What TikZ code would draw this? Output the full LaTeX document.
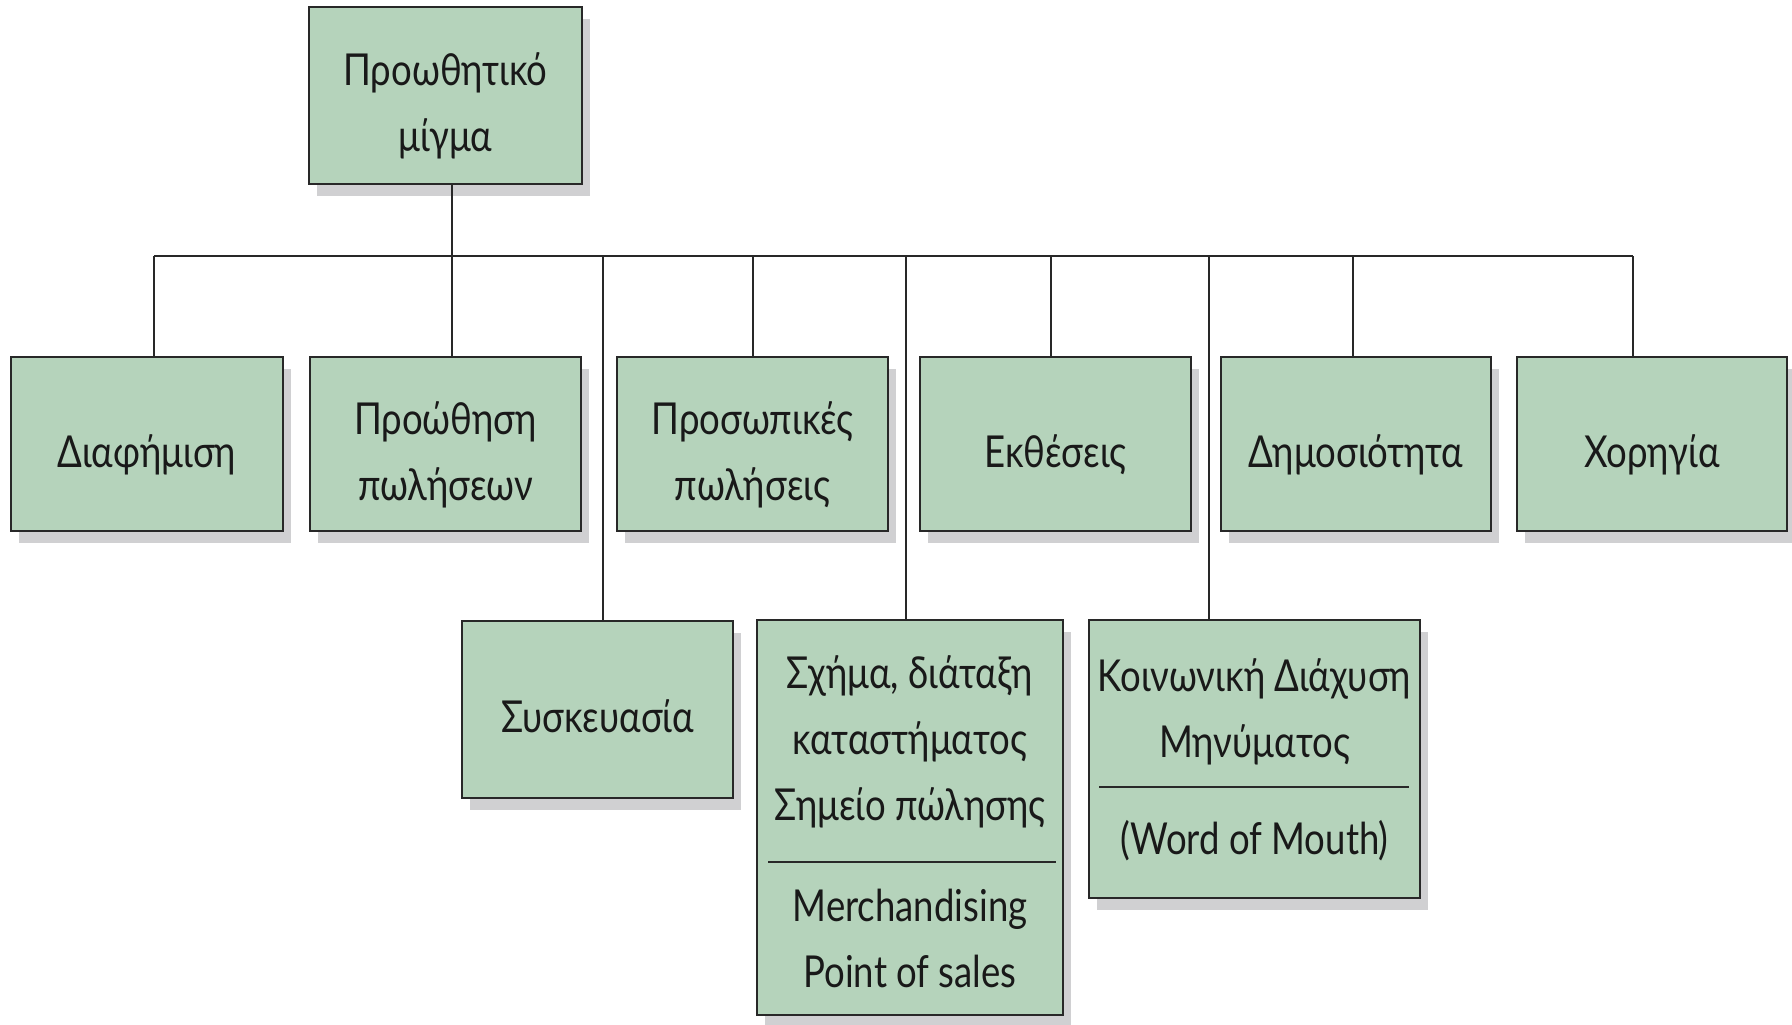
\documentclass[tikz,border=0pt]{standalone}
\usepackage{fontspec}
\setmainfont{Lato}[FakeStretch=0.83]
\usetikzlibrary{shadows}

\definecolor{boxgreen}{RGB}{181,211,187}
\definecolor{shadowgray}{RGB}{208,208,210}
\definecolor{linegray}{RGB}{40,40,40}
\newcommand{\topstrut}{\rule{0pt}{58pt}}
\newcommand{\botstrut}{\rule[-12pt]{0pt}{0pt}}

\begin{document}
\begin{tikzpicture}[
			x=1pt, y=-1pt,
			greenbox/.style={rectangle, draw=linegray, fill=boxgreen, line width=2.5pt, inner sep=0pt,
				align=center, text=black!90, font=\fontsize{44}{66}\selectfont,
				drop shadow={shadow xshift=8pt, shadow yshift=-12pt, fill=shadowgray, opacity=1}},
			plaintext/.style={inner sep=0pt, align=center, text=black!90, font=\fontsize{44}{66}\selectfont},
			conn/.style={draw=linegray, line width=2pt},
			]
			\useasboundingbox (0,0) rectangle (1792,1025);

    % top box
    \node[greenbox, minimum width=273pt, minimum height=177pt] (promix) at (445.5,95.5) {\topstrut Προωθητικό\\μίγμα\botstrut};

    % first row
    \node[greenbox, minimum width=272pt, minimum height=174pt] (diaf) at (147,444) {\topstrut Διαφήμιση\botstrut};
    \node[greenbox, minimum width=271pt, minimum height=174pt] (proothisi) at (445.5,444) {\topstrut Προώθηση\\πωλήσεων\botstrut};
    \node[greenbox, minimum width=271pt, minimum height=174pt] (prosopikes) at (752.5,444) {\topstrut Προσωπικές\\πωλήσεις\botstrut};
    \node[greenbox, minimum width=271pt, minimum height=174pt] (ektheseis) at (1055.5,444) {\topstrut Εκθέσεις\botstrut};
    \node[greenbox, minimum width=270pt, minimum height=174pt] (dimosiotita) at (1356,444) {\topstrut Δημοσιότητα\botstrut};
    \node[greenbox, minimum width=270pt, minimum height=174pt] (xorigia) at (1652,444) {\topstrut Χορηγία\botstrut};

    % second row
    \node[greenbox, minimum width=271pt, minimum height=177pt] (syskevasia) at (597.5,709.5) {\topstrut Συσκευασία\botstrut};
    \node[greenbox, minimum width=306pt, minimum height=395pt] (sxima) at (910,817.5) {};
    \node[plaintext] (sximagr) at (910,742) {Σχήμα, διάταξη\\καταστήματος\\Σημείο πώλησης};
    \node[plaintext] (sximaen) at (910,938) {Merchandising\\Point of sales};
    \draw[conn] (768,862) -- (1056,862);
    \node[greenbox, minimum width=331pt, minimum height=278pt] (koinoniki) at (1254.5,759) {};
    \node[plaintext] (koinonikigr) at (1254.5,712) {Κοινωνική Διάχυση\\Μηνύματος};
    \node[plaintext] (koinonikien) at (1254.5,841) {(Word of Mouth)};
    \draw[conn] (1099,787) -- (1409,787);

    % connectors
    \coordinate (busL) at (154,256);
    \coordinate (busR) at (1633,256);
    \draw[conn] (busL) -- (busR);
    \draw[conn] ([xshift=6pt]promix.south) -- ([xshift=6pt]promix.south |- busL);
    \draw[conn] (busL) -- (busL |- diaf.north);
    \draw[conn] ([xshift=6pt]proothisi.north) -- ([xshift=6pt]proothisi.north |- busL);
    \draw[conn] (prosopikes.north) -- (prosopikes.north |- busL);
    \draw[conn] ([xshift=-5pt]ektheseis.north) -- ([xshift=-5pt]ektheseis.north |- busL);
    \draw[conn] ([xshift=-3pt]dimosiotita.north) -- ([xshift=-3pt]dimosiotita.north |- busL);
    \draw[conn] (busR) -- (busR |- xorigia.north);
    \draw[conn] ([xshift=5.5pt]syskevasia.north) -- ([xshift=5.5pt]syskevasia.north |- busL);
    \draw[conn] ([xshift=-4pt]sxima.north) -- ([xshift=-4pt]sxima.north |- busL);
    \draw[conn] ([xshift=-45.5pt]koinoniki.north) -- ([xshift=-45.5pt]koinoniki.north |- busL);

        \end{tikzpicture}
\end{document}
